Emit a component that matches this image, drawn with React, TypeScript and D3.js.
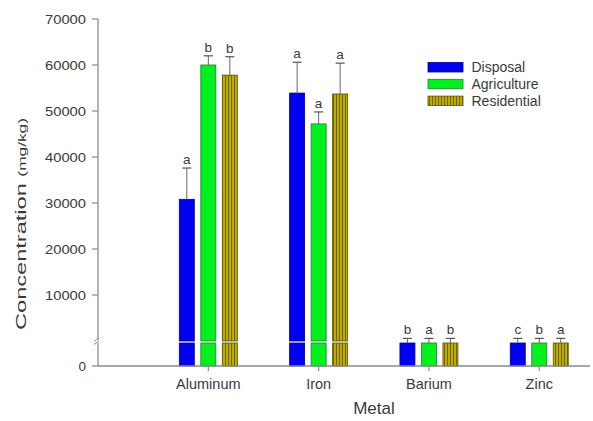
import React from "react";
import * as d3 from "d3";

const categories = ["Aluminum", "Iron", "Barium", "Zinc"];
const seriesNames = ["Disposal", "Agriculture", "Residential"];

const disposal = [30800, 53900, 1000, 1000];
const disposalErr = [6800, 6700, 200, 200];
const disposalLetters = ["a", "a", "b", "c"];

const agriculture = [60000, 47200, 1000, 1000];
const agricultureErr = [2000, 2600, 200, 200];
const agricultureLetters = ["b", "a", "a", "b"];

const residential = [57800, 53700, 1000, 1000];
const residentialErr = [4000, 6700, 200, 200];
const residentialLetters = ["b", "a", "b", "a"];

const yTicksUpper = [10000, 20000, 30000, 40000, 50000, 60000, 70000];
const yTicksLower = [0];

const W = 593;
const H = 421;
const FONT = "Arial, 'Liberation Sans', sans-serif";

export default function App() {
  const x0 = 98;
  const yBase = 366;
  const xScale = d3.scaleLinear().domain([0, 4.46]).range([x0, 590]);
  const lower = d3.scaleLinear().domain([0, 1000]).range([yBase, 343]);
  const upper = d3.scaleLinear().domain([0, 70000]).range([341, 19]);
  const breakValue = 5000;
  const yOf = (v: number) => (v < breakValue ? lower(v) : upper(v));

  const offsets = d3.scalePoint<string>().domain(seriesNames).range([-21.5, 21.5]);
  const barW = 15;

  const series = [
    { name: "Disposal", vals: disposal, errs: disposalErr, letters: disposalLetters, fill: "#0000f0", stroke: "#00008a" },
    { name: "Agriculture", vals: agriculture, errs: agricultureErr, letters: agricultureLetters, fill: "#00f020", stroke: "#2a7a2a" },
    { name: "Residential", vals: residential, errs: residentialErr, letters: residentialLetters, fill: "url(#resPat)", stroke: "#5a5000" },
  ];

  const axisColor = "#8a8a8a";
  const textColor = "#3a3a3a";

  return (
    <svg width={W} height={H} style={{ position: "absolute", left: 0, top: 0, background: "#fff" }} fontFamily={FONT}>
      <defs>
        <pattern id="resPat" patternUnits="userSpaceOnUse" width={3} height={4}>
          <rect width={3} height={4} fill="#bcae00" />
          <rect width={1} height={4} fill="#6e6200" />
        </pattern>
      </defs>

      {/* bars */}
      {series.map((s) =>
        categories.map((c, i) => {
          const cx = xScale(i + 1) + (offsets(s.name) as number);
          const v = s.vals[i];
          const e = s.errs[i];
          const top = yOf(v);
          const capY = yOf(v + e);
          const parts: React.ReactNode[] = [];
          if (v >= breakValue) {
            parts.push(
              <rect key="lo" x={cx - barW / 2} y={lower(1000)} width={barW} height={yBase - lower(1000)} fill={s.fill} stroke={s.stroke} strokeWidth={0.8} />
            );
            parts.push(
              <rect key="up" x={cx - barW / 2} y={top} width={barW} height={upper(0) - top} fill={s.fill} stroke={s.stroke} strokeWidth={0.8} />
            );
          } else {
            parts.push(
              <rect key="only" x={cx - barW / 2} y={top} width={barW} height={yBase - top} fill={s.fill} stroke={s.stroke} strokeWidth={0.8} />
            );
          }
          return (
            <g key={s.name + c}>
              {parts}
              <line x1={cx} x2={cx} y1={top} y2={capY} stroke="#666" strokeWidth={1} />
              <line x1={cx - 4.5} x2={cx + 4.5} y1={capY} y2={capY} stroke="#555" strokeWidth={1.2} />
              <text x={cx} y={capY - 4} textAnchor="middle" fontSize={13.5} fill={textColor}>
                {s.letters[i]}
              </text>
            </g>
          );
        })
      )}

      {/* y axis */}
      <line x1={x0} x2={x0} y1={19} y2={yBase} stroke={axisColor} strokeWidth={1.3} />
      {yTicksUpper.map((t) => (
        <g key={t}>
          <line x1={x0 - 6} x2={x0} y1={upper(t)} y2={upper(t)} stroke={axisColor} strokeWidth={1.2} />
          <text x={86} y={upper(t) + 4.5} textAnchor="end" fontSize={13.5} textLength={41} lengthAdjust="spacingAndGlyphs" fill={textColor}>
            {t}
          </text>
        </g>
      ))}
      {yTicksLower.map((t) => (
        <g key={"l" + t}>
          <line x1={x0 - 6} x2={x0} y1={lower(t)} y2={lower(t)} stroke={axisColor} strokeWidth={1.2} />
          <text x={86} y={lower(t) + 4.5} textAnchor="end" fontSize={13.5} fill={textColor}>
            {t}
          </text>
        </g>
      ))}
      {/* axis break */}
      <rect x={x0 - 4} y={340} width={8} height={3} fill="#fff" />
      <line x1={x0 - 4} x2={x0 + 1} y1={341.5} y2={338} stroke={axisColor} strokeWidth={1} />
      <line x1={x0 - 4} x2={x0 + 1} y1={344.5} y2={341} stroke={axisColor} strokeWidth={1} />

      {/* x axis */}
      <line x1={x0} x2={590} y1={yBase} y2={yBase} stroke={axisColor} strokeWidth={1.3} />
      {categories.map((c, i) => (
        <g key={c}>
          <line x1={xScale(i + 1)} x2={xScale(i + 1)} y1={yBase} y2={yBase + 5} stroke={axisColor} strokeWidth={1.2} />
          <text x={xScale(i + 1)} y={389} textAnchor="middle" fontSize={14.5} fill={textColor}>
            {c}
          </text>
        </g>
      ))}
      <text x={374} y={414} textAnchor="middle" fontSize={17} fill={textColor}>
        Metal
      </text>

      {/* y label */}
      <text transform="translate(26,224) rotate(-90)" textAnchor="middle" fontSize={15} textLength={212} lengthAdjust="spacingAndGlyphs" fill={textColor}>
        Concentration <tspan fontSize={11}>(mg/kg)</tspan>
      </text>

      {/* legend */}
      {series.map((s, i) => {
        const y = 62.5 + i * 16.8;
        return (
          <g key={"lg" + s.name}>
            <rect x={428} y={y} width={35} height={9.5} fill={s.fill} stroke={s.stroke} strokeWidth={0.8} />
            <text x={471.5} y={y + 9.5} fontSize={14} fill={textColor}>
              {s.name}
            </text>
          </g>
        );
      })}
    </svg>
  );
}
